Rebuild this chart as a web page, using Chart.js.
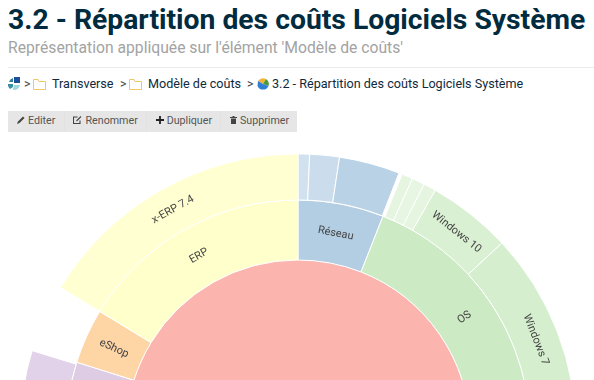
<!DOCTYPE html>
<html lang="fr">
<head>
<meta charset="utf-8">
<title>3.2 - Répartition des coûts Logiciels Système</title>
<script src="https://cdn.jsdelivr.net/npm/chart.js@4"></script>
<style>
  html, body { margin: 0; padding: 0; width: 594px; height: 380px; overflow: hidden; background: #fff; font-family: Roboto, sans-serif; }
  .abs { position: absolute; white-space: nowrap; }
  #title { left: 8px; top: 2px; font-size: 28.3px; font-weight: 700; line-height: 36px; color: #012b3f; }
  #sub { left: 8px; top: 38px; font-size: 15.7px; line-height: 20px; color: #a3a3a3; }
  #rule { left: 8px; top: 67px; width: 586px; height: 1px; background: #eaeaea; }
  .crumb { top: 76px; font-size: 12.6px; line-height: 16px; color: #0f2a3d; }
  .sep { top: 76px; font-size: 12.6px; line-height: 16px; color: #444; }
  #bar { left: 8px; top: 111px; width: 289px; height: 21px; background: #e6e6e6; }
  .div { top: 111px; width: 1px; height: 21px; background: #e2e2e2; }
  .btn { top: 111px; font-size: 10.7px; line-height: 19px; color: #555; }
  #speedWrap { left: -2px; top: 132px; width: 600px; height: 600px; }
  svg { position: absolute; }
</style>
</head>
<body>
<div class="abs" id="title">3.2 - Répartition des coûts Logiciels Système</div>
<div class="abs" id="sub">Représentation appliquée sur l'élément 'Modèle de coûts'</div>
<div class="abs" id="rule"></div>

<svg style="left:8px;top:77px" width="13" height="14" viewBox="0 0 13 14">
  <rect x="6" y="0" width="6" height="6" fill="#1f4e9c"/>
  <path d="M5 1 A6 6 0 0 0 1 5 L5 5Z" fill="#2c7f95"/>
  <path d="M0 7 H5 V10 L2 12 A6 6 0 0 1 0 7Z" fill="#3a8fa5"/>
  <path d="M6 8 H12 A6 6 0 0 1 5 13Z" fill="#9fd6dc"/>
</svg>
<div class="abs sep" style="left:24px">&gt;</div>
<svg style="left:33px;top:79px" width="13" height="11" viewBox="0 0 13 11"><path d="M.5 10.5V.5H5L6 2.5H12.5V10.5Z" fill="none" stroke="#f2c766"/></svg>
<div class="abs crumb" style="left:52px">Transverse</div>
<div class="abs sep" style="left:120px">&gt;</div>
<svg style="left:129px;top:79px" width="13" height="11" viewBox="0 0 13 11"><path d="M.5 10.5V.5H5L6 2.5H12.5V10.5Z" fill="none" stroke="#f2c766"/></svg>
<div class="abs crumb" style="left:148px">Modèle de coûts</div>
<div class="abs sep" style="left:247px">&gt;</div>
<svg style="left:257px;top:78px" width="12" height="12" viewBox="0 0 12 12">
  <path d="M6 6 L1 3 A6 6 0 0 1 9 1Z" fill="#f2b632"/>
  <path d="M6 6 L9 1 A6 6 0 0 1 11.5 8Z" fill="#4c9a3f"/>
  <path d="M6 6 L11.5 8 A6 6 0 0 1 0.5 8 L1 3Z" fill="#2f7fd6"/>
</svg>
<div class="abs crumb" style="left:272px">3.2 - Répartition des coûts Logiciels Système</div>

<div class="abs" id="bar"></div>
<div class="abs div" style="left:64px"></div>
<div class="abs div" style="left:146px"></div>
<div class="abs div" style="left:220px"></div>
<svg style="left:17px;top:116px" width="8" height="8" viewBox="0 0 8 8"><path d="M0 8 L1 5.5 L6 .5 L7.5 2 L2.5 7Z" fill="#444"/></svg>
<div class="abs btn" style="left:28px">Editer</div>
<svg style="left:73px;top:116px" width="9" height="8" viewBox="0 0 9 8"><path d="M7 4.5V7.5H.5V1H4.5M3.5 5L8 .5" fill="none" stroke="#444" stroke-width="1.1"/></svg>
<div class="abs btn" style="left:85.5px">Renommer</div>
<svg style="left:156px;top:116px" width="8" height="8" viewBox="0 0 8 8"><path d="M0 4H8M4 0V8" stroke="#222" stroke-width="1.8"/></svg>
<div class="abs btn" style="left:166.7px">Dupliquer</div>
<svg style="left:230px;top:116px" width="7" height="8" viewBox="0 0 7 8"><path d="M2.5 0H4.5V1H7V2H0V1H2.5ZM1 2.5H6V8H1Z" fill="#444"/></svg>
<div class="abs btn" style="left:240px">Supprimer</div>

<div class="abs" id="speedWrap"><canvas id="speedChart" width="600" height="600"></canvas></div>

<script>
// angular spans in degrees, clockwise from 12 o'clock. "" = empty gap in the ring
const outerLabels = ["", "", "", "", "", "", "", "Windows 10", "Windows 7", "", "", "", "x-ERP 7.4"];
const outerValues = [2.4, 6.2, 12.7, 0.7, 2.3, 2.7, 2.6, 17.6, 43.2, 164.6, 32, 14.3, 58.7];
const outerColors = ["#d1e1ee", "#cbddec", "#b9d2e6", "transparent", "#e5f5e0", "#e7f6e3", "#e5f5e0", "#d9f0d3", "#d5efce", "transparent", "#e2d2e9", "transparent", "#ffffd1"];

const middleLabels = ["Réseau", "OS", "", "", "eShop", "ERP"];
const middleValues = [21.5, 68, 165.5, 32.5, 13.8, 58.7];
const middleColors = ["#b3cde3", "#ccebc5", "transparent", "#decbe4", "#fed6a6", "#ffffcc"];

const centerValues = [360];
const centerColors = ["#fbb4ae"];

// labels drawn across the ring rather than along it
const radialLabels = ["OS", "eShop"];

function gapAware(colors) {
  return colors.map(function (c) { return c === "transparent" ? 0 : 1; });
}

const ringLabels = {
  id: "ringLabels",
  afterDatasetsDraw: function (chart) {
    const ctx = chart.ctx;
    [outerLabels, middleLabels].forEach(function (labels, i) {
      chart.getDatasetMeta(i).data.forEach(function (arc, j) {
        if (!labels[j]) return;
        const p = arc.getProps(["x", "y", "startAngle", "endAngle", "innerRadius", "outerRadius"], true);
        const mid = (p.startAngle + p.endAngle) / 2;
        const r = (p.innerRadius + p.outerRadius) / 2;
        let rot = mid + Math.PI / 2;
        if (rot > Math.PI) rot -= 2 * Math.PI;
        if (radialLabels.includes(labels[j])) rot = rot < 0 ? rot + Math.PI / 2 : rot - Math.PI / 2;
        ctx.save();
        ctx.translate(p.x + Math.cos(mid) * r, p.y + Math.sin(mid) * r);
        ctx.rotate(rot);
        ctx.font = "11px Roboto";
        ctx.fillStyle = "#444";
        ctx.textAlign = "center";
        ctx.textBaseline = "middle";
        ctx.fillText(labels[j], 0, 0);
        ctx.restore();
      });
    });
  },
};

let myChart = document.getElementById("speedChart").getContext("2d");

let sunChart = new Chart(myChart, {
  type: "pie",
  data: {
    labels: outerLabels,
    datasets: [
      { data: outerValues, backgroundColor: outerColors, borderColor: "#fff", borderWidth: gapAware(outerColors), weight: 46 },
      { data: middleValues, backgroundColor: middleColors, borderColor: "#fff", borderWidth: gapAware(middleColors), weight: 60 },
      { data: centerValues, backgroundColor: centerColors, borderColor: "#fff", borderWidth: 0, weight: 172 },
    ],
  },
  options: {
    responsive: false,
    animation: false,
    radius: 278,
    plugins: {
      legend: { display: false },
      tooltip: { enabled: false },
    },
  },
  plugins: [ringLabels],
});
</script>
</body>
</html>
